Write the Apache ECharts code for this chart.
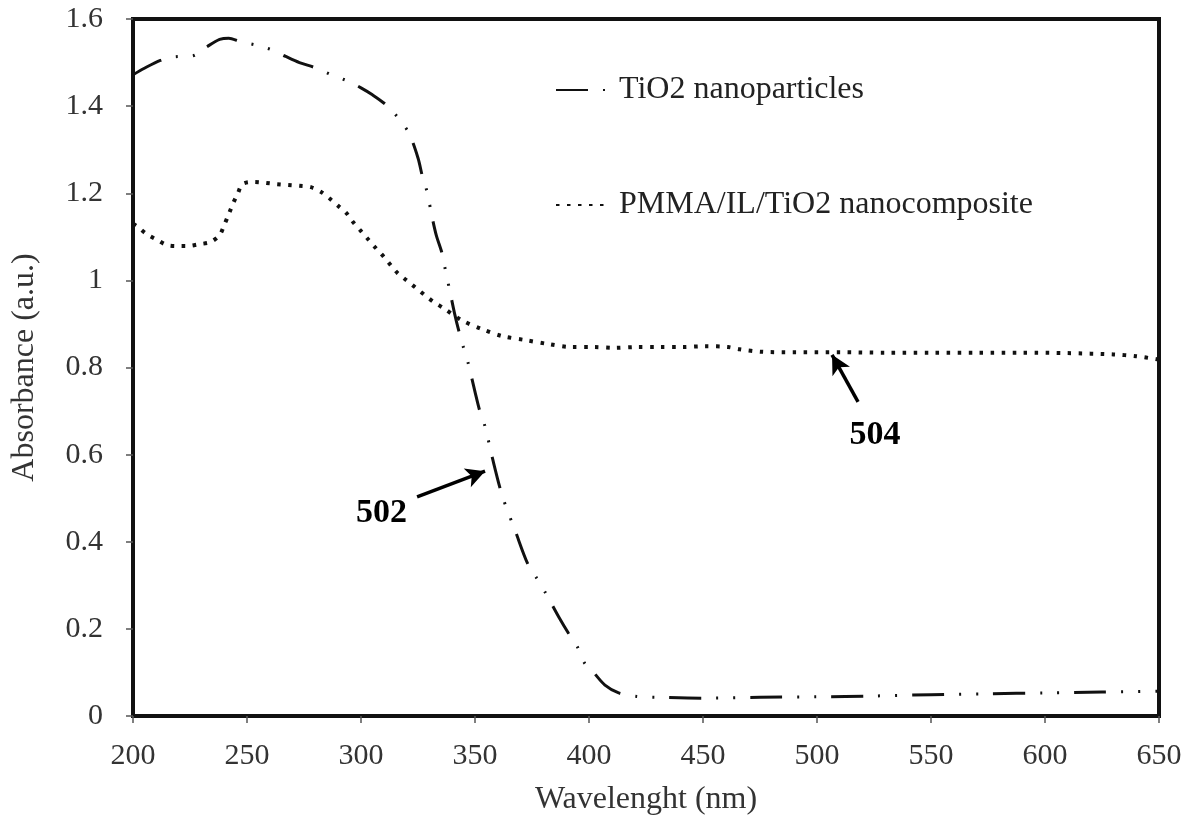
<!DOCTYPE html>
<html>
<head>
<meta charset="utf-8">
<script src="https://cdn.jsdelivr.net/npm/echarts@6/dist/echarts.min.js"></script>
<style>
  html, body { margin: 0; padding: 0; background: #fff; }
  #container { width: 1185px; height: 819px; }
</style>
</head>
<body>
<div id="container"></div>
<script>
// TiO2 nanoparticles (curve 502)
const tio2Wl = [200, 205, 212, 218, 226, 232, 238, 242, 247, 254, 261, 267, 273, 280, 287, 294, 300, 305, 311, 316, 321, 325, 327, 329, 331, 333, 335.5, 337, 339, 341, 343, 345, 347, 350, 352, 354.5, 357.5, 362, 368, 373, 377, 381, 387, 391, 395, 398, 402, 407, 413, 421, 430, 450, 475, 500, 525, 550, 575, 600, 625, 650];
const tio2Abs = [1.472, 1.487, 1.505, 1.513, 1.515, 1.535, 1.553, 1.556, 1.548, 1.540, 1.529, 1.514, 1.500, 1.488, 1.472, 1.458, 1.442, 1.426, 1.403, 1.375, 1.338, 1.281, 1.237, 1.203, 1.150, 1.104, 1.063, 1.024, 0.975, 0.925, 0.882, 0.845, 0.810, 0.744, 0.702, 0.663, 0.595, 0.505, 0.420, 0.351, 0.317, 0.282, 0.225, 0.190, 0.158, 0.122, 0.100, 0.071, 0.053, 0.045, 0.043, 0.041, 0.043, 0.044, 0.046, 0.049, 0.051, 0.053, 0.055, 0.057];

// PMMA/IL/TiO2 nanocomposite (curve 504)
const pmmaWl = [200, 202, 206, 210.5, 215, 220, 224, 229, 234, 238, 240, 242, 244, 246, 248, 253, 258, 263, 268, 273, 278, 282.5, 286, 290, 293.5, 296.5, 300, 303, 306, 310, 313, 316, 320, 324, 328, 332, 336, 344, 353, 362, 372, 382, 392, 402, 411, 421, 431, 441, 451, 461, 466, 476, 490, 510, 530, 550, 570, 590, 610, 630, 640, 650];
const pmmaAbs = [1.130, 1.123, 1.106, 1.093, 1.081, 1.079, 1.079, 1.083, 1.088, 1.104, 1.127, 1.152, 1.178, 1.200, 1.221, 1.226, 1.224, 1.221, 1.219, 1.217, 1.214, 1.203, 1.189, 1.171, 1.155, 1.134, 1.113, 1.095, 1.077, 1.054, 1.035, 1.017, 1.000, 0.983, 0.966, 0.950, 0.937, 0.909, 0.888, 0.872, 0.863, 0.854, 0.847, 0.847, 0.845, 0.847, 0.847, 0.847, 0.849, 0.847, 0.842, 0.836, 0.835, 0.835, 0.834, 0.834, 0.834, 0.834, 0.833, 0.830, 0.826, 0.818];

const seriesNames = ['TiO2 nanoparticles', 'PMMA/IL/TiO2 nanocomposite'];

// callouts: label position, arrow start, arrow tip (data coords)
const label502 = [309, 0.466];
const arrow502 = [[324.6, 0.503], [354.4, 0.562]];
const label504 = [525.4, 0.645];
const arrow504 = [[518, 0.721], [506.6, 0.829]];

const font = 'Liberation Serif, Times New Roman, serif';

function pairs(xs, ys) {
    return xs.map((x, i) => [x, ys[i]]);
}

function callout(text, pos, arrow) {
    return {
        markLine: {
            silent: true,
            symbol: ['none', 'arrow'],
            symbolSize: [15, 19],
            lineStyle: { color: '#000', width: 3.5, type: 'solid' },
            label: { show: false },
            data: [[{ coord: arrow[0] }, { coord: arrow[1] }]]
        },
        markPoint: {
            silent: true,
            symbol: 'circle',
            symbolSize: 0,
            label: {
                show: true,
                position: 'inside',
                formatter: text,
                fontFamily: font,
                fontWeight: 'bold',
                fontSize: 34,
                color: '#000'
            },
            data: [{ coord: pos }]
        }
    };
}

let mychart = echarts.init(document.getElementById('container'));

mychart.setOption({
    animation: false,
    backgroundColor: '#fff',
    grid: {
        left: 133,
        right: 26,
        top: 19,
        bottom: 103,
        outerBoundsMode: 'none',
        show: true,
        borderColor: '#111',
        borderWidth: 4
    },
    legend: {
        orient: 'vertical',
        left: 550,
        top: 69,
        itemGap: 83,
        itemWidth: 50,
        itemHeight: 14,
        itemStyle: { color: 'transparent', borderWidth: 0, opacity: 0 },
        textStyle: {
            fontFamily: font,
            fontSize: 32,
            color: '#222',
            padding: [0, 0, 0, 8]
        },
        data: seriesNames
    },
    xAxis: {
        type: 'value',
        min: 200,
        max: 650,
        interval: 50,
        name: 'Wavelenght (nm)',
        nameLocation: 'middle',
        nameGap: 68,
        nameTextStyle: { fontFamily: font, fontSize: 32, color: '#333' },
        axisLine: { show: true, lineStyle: { color: '#111', width: 4 } },
        axisTick: { show: true, length: 7, lineStyle: { color: '#555', width: 1.5 } },
        axisLabel: { fontFamily: font, fontSize: 30, color: '#333', margin: 25 },
        splitLine: { show: false }
    },
    yAxis: {
        type: 'value',
        min: 0,
        max: 1.6,
        interval: 0.2,
        name: 'Absorbance (a.u.)',
        nameLocation: 'middle',
        nameGap: 92,
        nameTextStyle: { fontFamily: font, fontSize: 32, color: '#333' },
        axisLine: { show: true, lineStyle: { color: '#111', width: 4 } },
        axisTick: { show: true, length: 7, lineStyle: { color: '#555', width: 1.5 } },
        axisLabel: { fontFamily: font, fontSize: 30, color: '#333', margin: 30 },
        splitLine: { show: false }
    },
    series: [
        Object.assign({
            name: seriesNames[0],
            type: 'line',
            data: pairs(tio2Wl, tio2Abs),
            smooth: 0.3,
            symbol: 'none',
            lineStyle: { color: '#111', width: 3, type: [32, 15, 2, 15, 2, 15] },
            itemStyle: { color: '#111' }
        }, callout('502', label502, arrow502)),
        Object.assign({
            name: seriesNames[1],
            type: 'line',
            data: pairs(pmmaWl, pmmaAbs),
            smooth: 0.3,
            symbol: 'none',
            lineStyle: { color: '#111', width: 4, type: [3.5, 7.5] },
            itemStyle: { color: '#111' }
        }, callout('504', label504, arrow504))
    ]
});

window.addEventListener('resize', () => { mychart.resize() });
</script>
</body>
</html>
